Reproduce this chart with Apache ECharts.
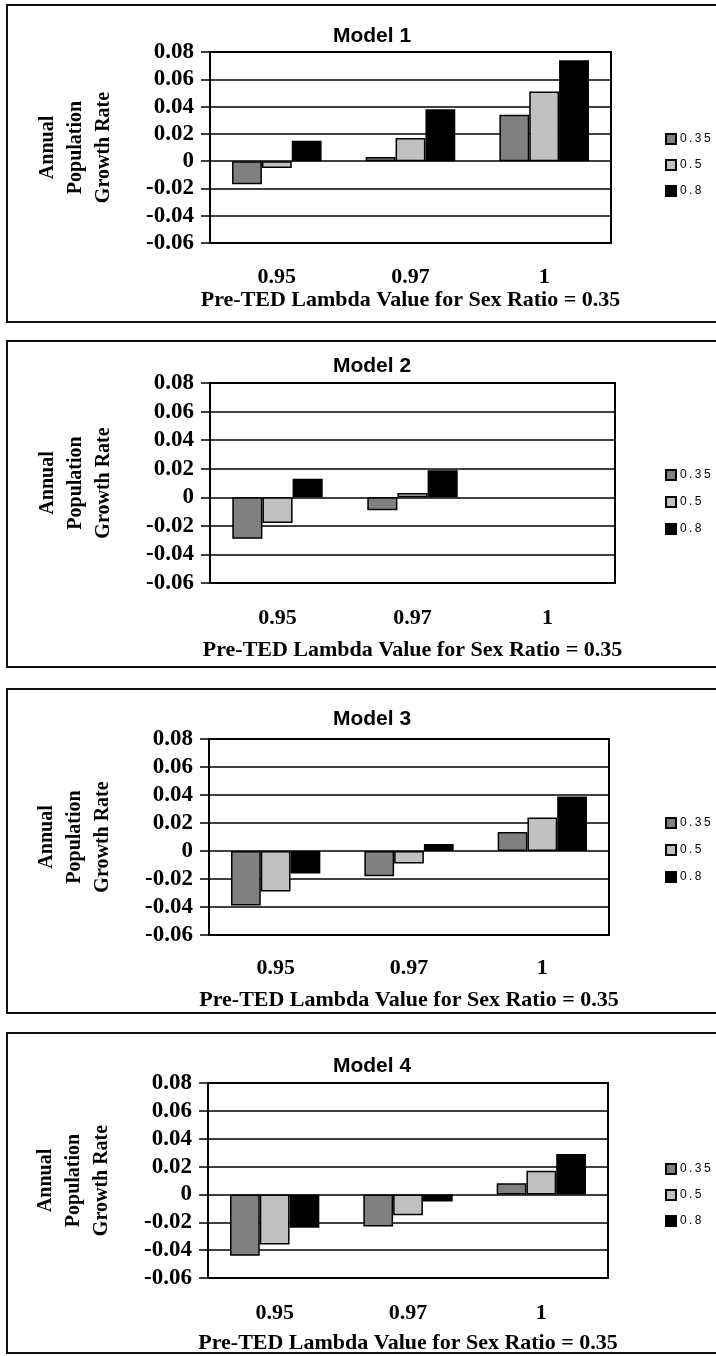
<!DOCTYPE html>
<html>
<head>
<meta charset="utf-8">
<script src="https://cdn.jsdelivr.net/npm/echarts@6/dist/echarts.min.js"></script>
<style>
  html, body { margin: 0; padding: 0; background: #fff; overflow: hidden; }
  #main { width: 716px; height: 1356px; }
</style>
</head>
<body>
<div id="main"></div>
<script>
// categories and legend names
const lambdas = ["0.95", "0.97", "1"];
const sexRatios = ["0.35", "0.5", "0.8"];
const yTicks = { min: -0.06, max: 0.08, step: 0.02 };

// growth rate values
const model1_035 = [-0.017, 0.003, 0.034];
const model1_05 = [-0.005, 0.017, 0.051];
const model1_08 = [0.015, 0.038, 0.074];

const model2_035 = [-0.029, -0.009, null];
const model2_05 = [-0.018, 0.003, null];
const model2_08 = [0.013, 0.019, null];

const model3_035 = [-0.039, -0.018, 0.0135];
const model3_05 = [-0.029, -0.009, 0.024];
const model3_08 = [-0.016, 0.005, 0.039];

const model4_035 = [-0.044, -0.023, 0.008];
const model4_05 = [-0.036, -0.015, 0.017];
const model4_08 = [-0.024, -0.005, 0.029];

const models = [
  { title: "Model 1", data: [model1_035, model1_05, model1_08] },
  { title: "Model 2", data: [model2_035, model2_05, model2_08] },
  { title: "Model 3", data: [model3_035, model3_05, model3_08] },
  { title: "Model 4", data: [model4_035, model4_05, model4_08] },
];

// layout of each panel (pixels)
const panels = [
  { box: [5, 322], grid: [210, 52, 401, 191], titleTop: 21, legendTop: 128, legendGap: 14, labelMargin: 23, nameGap: 45 },
  { box: [341, 667], grid: [210, 383, 405, 200], titleTop: 351, legendTop: 464, legendGap: 15, labelMargin: 24, nameGap: 56 },
  { box: [689, 1013], grid: [209, 739, 400, 196], titleTop: 704, legendTop: 812, legendGap: 15, labelMargin: 22, nameGap: 54 },
  { box: [1033, 1353], grid: [208, 1083, 400, 195], titleTop: 1051, legendTop: 1158, legendGap: 14, labelMargin: 24, nameGap: 54 },
];

const barColors = ["#808080", "#c0c0c0", "#000000"];
const serif = "'Liberation Serif', 'Times New Roman', serif";
const sans = "'Liberation Sans', Arial, sans-serif";

var myChart = echarts.init(document.getElementById("main"));

var option = {
  backgroundColor: "#fff",
  animation: false,
  title: [],
  legend: [],
  grid: [],
  xAxis: [],
  yAxis: [],
  series: [],
  graphic: [],
};

panels.forEach(function (p, i) {
  option.graphic.push({
    type: "rect",
    shape: { x: 7, y: p.box[0], width: 730, height: p.box[1] - p.box[0] },
    style: { fill: "none", stroke: "#111", lineWidth: 2 },
    z: 0,
  });

  option.title.push({
    text: models[i].title,
    left: 367,
    top: p.titleTop,
    textAlign: "center",
    textStyle: { fontFamily: sans, fontWeight: "bold", fontSize: 21, color: "#000" },
  });

  option.legend.push({
    data: sexRatios,
    orient: "vertical",
    left: 660,
    top: p.legendTop,
    itemWidth: 10,
    itemHeight: 10,
    itemGap: p.legendGap,
    selectedMode: false,
    icon: "rect",
    formatter: function (name) {
      return name.split("").join("\u2009");
    },
    textStyle: { fontFamily: sans, fontSize: 12, color: "#000", padding: [0, 0, 0, -1] },
  });

  option.grid.push({
    left: p.grid[0],
    top: p.grid[1],
    width: p.grid[2],
    height: p.grid[3],
    show: true,
    borderColor: "#000",
    borderWidth: 2,
    backgroundColor: "#fff",
  });

  option.xAxis.push({
    type: "category",
    gridIndex: i,
    data: lambdas,
    position: "bottom",
    axisLine: { show: false, onZero: false },
    axisTick: { show: false },
    axisLabel: {
      interval: 0,
      margin: p.labelMargin,
      fontFamily: serif,
      fontWeight: "bold",
      fontSize: 22,
      color: "#000",
    },
    name: "Pre-TED Lambda Value for Sex Ratio = 0.35",
    nameLocation: "middle",
    nameGap: p.nameGap,
    nameTextStyle: { fontFamily: serif, fontWeight: "bold", fontSize: 22, color: "#000" },
  });

  option.yAxis.push({
    type: "value",
    gridIndex: i,
    min: yTicks.min,
    max: yTicks.max,
    interval: yTicks.step,
    axisLine: { show: true, lineStyle: { color: "#000", width: 2 } },
    axisTick: { show: true, length: 9, lineStyle: { color: "#000", width: 1.5 } },
    splitLine: { show: true, lineStyle: { color: "#000", width: 1.5 } },
    axisLabel: {
      margin: 16,
      fontFamily: serif,
      fontWeight: "bold",
      fontSize: 23,
      color: "#000",
      formatter: function (v) {
        var r = Math.round(v * 100) / 100;
        return r === 0 ? "0" : r.toFixed(2);
      },
    },
    name: "Annual\nPopulation\nGrowth Rate",
    nameLocation: "middle",
    nameRotate: 90,
    nameGap: 92,
    nameTextStyle: {
      fontFamily: serif,
      fontWeight: "bold",
      fontSize: 20,
      lineHeight: 28,
      color: "#000",
      align: "center",
    },
  });

  models[i].data.forEach(function (vals, k) {
    option.series.push({
      name: sexRatios[k],
      type: "bar",
      xAxisIndex: i,
      yAxisIndex: i,
      data: vals,
      barGap: "0%",
      barCategoryGap: "33%",
      itemStyle: { color: barColors[k], borderColor: "#000", borderWidth: 1.5 },
    });
  });
});

myChart.setOption(option);
</script>
</body>
</html>
